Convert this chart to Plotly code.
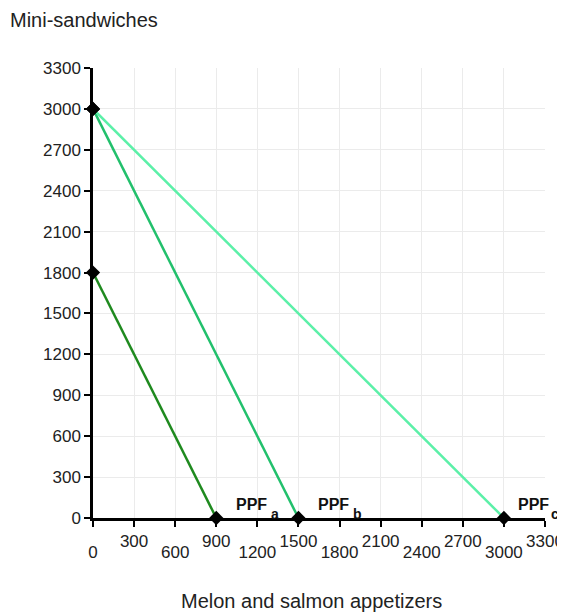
import plotly.graph_objects as go

# Data
ppf_names = ["a", "b", "c"]
ppf_x_intercepts = [900, 1500, 3000]      # melon and salmon appetizers
ppf_y_intercepts = [1800, 3000, 3000]     # mini-sandwiches
ppf_colors = ["#1f8a1f", "#22c06c", "#5cf0a8"]

tick_vals = [0, 300, 600, 900, 1200, 1500, 1800, 2100, 2400, 2700, 3000, 3300]
tick_labels = [str(v) for v in tick_vals]

FONT = "Arial, Liberation Sans, sans-serif"
TICKFONT = dict(family=FONT, size=17, color="#222222")

fig = go.Figure()

for name, xi, yi, col in zip(ppf_names, ppf_x_intercepts, ppf_y_intercepts, ppf_colors):
    fig.add_trace(go.Scatter(
        x=[0, xi], y=[yi, 0], mode="lines",
        line=dict(color=col, width=2.5), showlegend=False, hoverinfo="skip",
        cliponaxis=False,
    ))

annots = []
for i, (name, xi, yi, col) in enumerate(zip(ppf_names, ppf_x_intercepts, ppf_y_intercepts, ppf_colors)):
    fig.add_trace(go.Scatter(
        x=[0, xi], y=[yi, 0], mode="markers",
        marker=dict(symbol="diamond", size=11, color="black"),
        showlegend=False, cliponaxis=False,
    ))
    last = i == len(ppf_names) - 1
    annots.append(dict(
        x=xi, y=0, text="<b>PPF</b>", showarrow=False,
        xanchor="left", yanchor="middle", xshift=12 if last else 18, yshift=14,
        font=dict(family=FONT, size=16, color="#111111"),
    ))
    annots.append(dict(
        x=xi, y=0, text="<b>%s</b>" % name, showarrow=False,
        xanchor="left", yanchor="middle", xshift=45 if last else 53, yshift=4,
        font=dict(family=FONT, size=14, color="#111111"),
    ))

# invisible trace for the second (staggered labels) x axis
fig.add_trace(go.Scatter(x=[0, 3300], y=[0, 0], xaxis="x2", mode="markers",
                         marker=dict(opacity=0), showlegend=False, hoverinfo="skip"))

upper_text = [t if i % 2 == 1 else "" for i, t in enumerate(tick_labels)]
lower_text = [t if i % 2 == 0 else "" for i, t in enumerate(tick_labels)]

fig.update_layout(
    width=557, height=604,
    margin=dict(l=85, r=20, t=60, b=94),
    plot_bgcolor="white", paper_bgcolor="white",
    font=dict(family=FONT, size=17, color="#222222"),
    xaxis=dict(
        range=[0, 3300], tickmode="array", tickvals=tick_vals, ticktext=upper_text,
        tickfont=TICKFONT,
        showgrid=True, gridcolor="#ebebeb", gridwidth=1,
        showline=True, linecolor="black", linewidth=2.5,
        ticks="outside", ticklen=6, tickcolor="black", tickwidth=1.5,
        zeroline=False, ticklabelstandoff=0, automargin=False,
    ),
    xaxis2=dict(
        range=[0, 3300], overlaying="x", side="bottom", anchor="y",
        tickmode="array", tickvals=tick_vals, ticktext=lower_text,
        tickfont=TICKFONT,
        showgrid=False, showline=False, ticks="", zeroline=False,
        ticklabelstandoff=22, automargin=False,
    ),
    yaxis=dict(
        range=[0, 3300], tickmode="array", tickvals=tick_vals, ticktext=tick_labels,
        tickfont=TICKFONT,
        showgrid=True, gridcolor="#ebebeb", gridwidth=1,
        showline=True, linecolor="black", linewidth=2.5,
        ticks="outside", ticklen=6, tickcolor="black", tickwidth=1.5,
        zeroline=False, ticklabelstandoff=0, automargin=False,
    ),
    annotations=annots + [
        dict(text="Mini-sandwiches", xref="paper", yref="paper", x=0, y=1,
             xanchor="left", yanchor="middle", showarrow=False,
             xshift=-85, yshift=48, font=dict(family=FONT, size=20, color="#222222")),
        dict(text="Melon and salmon appetizers", xref="paper", yref="paper", x=0.5, y=0,
             xanchor="center", yanchor="middle", showarrow=False,
             yshift=-83, xshift=-8, font=dict(family=FONT, size=20, color="#222222")),
    ],
)

fig.write_html("out.html")
